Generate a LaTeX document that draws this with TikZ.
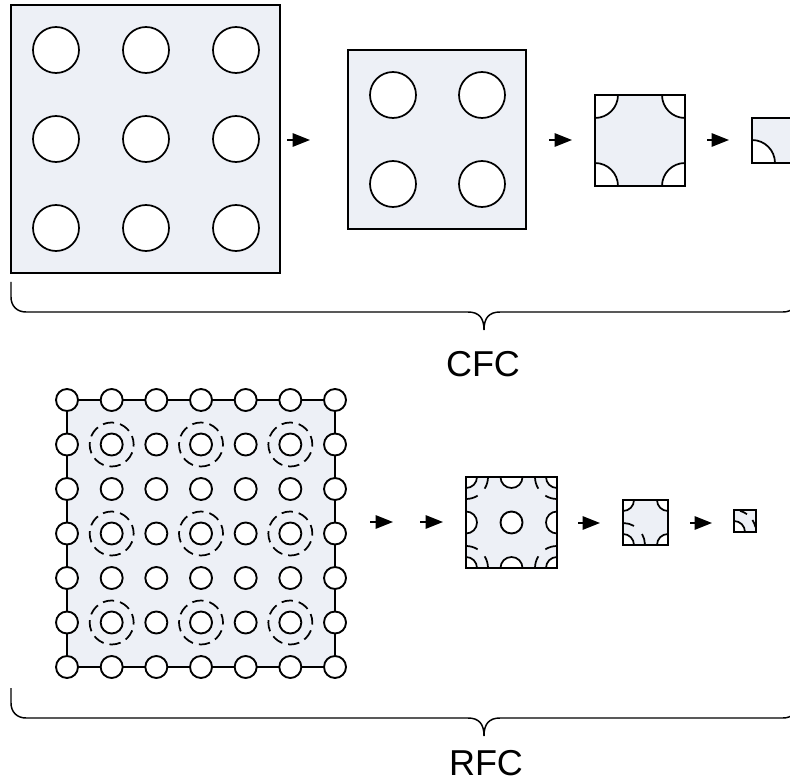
\documentclass[tikz,border=0pt]{standalone}
\usepackage{fontspec}
\setmainfont{Liberation Sans}
\usetikzlibrary{arrows.meta}
\definecolor{fillc}{RGB}{237,240,246}
\begin{document}
\begin{tikzpicture}[x=0.75pt,y=-0.75pt,
  sqfill/.style={fill=fillc, draw=none, rectangle, inner sep=0pt, outer sep=0pt, anchor=north west},
  border/.style={draw=black, line width=1.3pt},
  bighole/.style={circle, draw=black, fill=white, line width=1.3pt, inner sep=0pt, minimum size=34.5pt},
  smallhole/.style={circle, draw=black, fill=white, line width=1.4pt, inner sep=0pt, minimum size=16.5pt},
  ring/.style={circle, draw=black, line width=1.3pt, inner sep=0pt, minimum size=33pt, dash pattern=on 8.5pt off 4.5pt, dash phase=2pt},
  arr/.style={line width=1.4pt, -{Triangle[length=13pt,width=10pt]}},
  brace/.style={line width=1.1pt},
  lbl/.style={font=\fontsize{27}{30}\selectfont, inner sep=0pt}
]
\useasboundingbox (0,0) rectangle (790,784);

% ---------------- CFC (top) ----------------
% square 1
\node[sqfill, minimum width=201.75pt, minimum height=201pt] (s1) at (11,5) {};
\draw[border] (s1.north west) rectangle (s1.south east);
\foreach \x [count=\i] in {56,146,236} {
  \foreach \y [count=\j] in {50,139,228} {
    \node[bighole] (s1c\i\j) at (\x,\y) {};
  }
}
% square 2
\node[sqfill, minimum width=133.5pt, minimum height=134.25pt] (s2) at (348,50) {};
\draw[border] (s2.north west) rectangle (s2.south east);
\foreach \x [count=\i] in {393,482} {
  \foreach \y [count=\j] in {95,184} {
    \node[bighole] (s2c\i\j) at (\x,\y) {};
  }
}
% square 3
\node[sqfill, minimum width=67.5pt, minimum height=68.25pt] (s3) at (595,95) {};
\begin{scope}
  \clip (s3.north west) rectangle (s3.south east);
  \foreach \c in {north west, north east, south west, south east}
    \draw[line width=1.3pt, fill=white] (s3.\c) circle[radius=17.25pt];
\end{scope}
\draw[border] (s3.north west) rectangle (s3.south east);
% square 4 (cut by the right margin)
\node[sqfill, minimum width=34.5pt, minimum height=33.75pt] (s4) at (752,118) {};
\begin{scope}
  \clip (0,0) rectangle (790,784);
  \begin{scope}
    \clip (s4.north west) rectangle (s4.south east);
    \draw[line width=1.3pt, fill=white] (s4.south west) circle[radius=17.25pt];
  \end{scope}
  \draw[border] (s4.north west) rectangle (s4.south east);
\end{scope}
% arrows
\coordinate (a1s) at (287,140); \coordinate (a1e) at (310,140);
\coordinate (a2s) at (549,140); \coordinate (a2e) at (572,140);
\coordinate (a3s) at (707,140); \coordinate (a3e) at (729,140);
\draw[arr] (a1s) -- (a1e);
\draw[arr] (a2s) -- (a2e);
\draw[arr] (a3s) -- (a3e);
% brace
\begin{scope}
  \clip (0,0) rectangle (790,784);
  \draw[brace] (11,282) -- (11,297) .. controls (11,306) and (17,312) .. (26,312)
    -- (468,312) .. controls (479,312) and (484,318) .. (484,330)
    .. controls (484,318) and (489,312) .. (500,312)
    -- (783,312) .. controls (792,312) and (798,306) .. (798,297) -- (798,282);
\end{scope}
\node[lbl] (cfc) at (483,364) {CFC};

% ---------------- RFC (bottom) ----------------
\coordinate (gtl) at (67,400);
\coordinate (gbr) at (335,667);
\draw[border, fill=fillc] (gtl) rectangle (gbr);
\foreach \i in {1,3,5} {
  \foreach \j in {1,3,5} {
    \node[ring] (r\i\j) at ({67+44.667*\i},{400+44.5*\j}) {};
  }
}
\foreach \i in {0,...,6} {
  \foreach \j in {0,...,6} {
    \node[smallhole] (g\i\j) at ({67+44.667*\i},{400+44.5*\j}) {};
  }
}
% arrows
\coordinate (b1s) at (370,522); \coordinate (b1e) at (393,522);
\coordinate (b2s) at (420,522); \coordinate (b2e) at (443,522);
\coordinate (b3s) at (578,523); \coordinate (b3e) at (600,523);
\coordinate (b4s) at (690,523); \coordinate (b4e) at (712,523);
\draw[arr] (b1s) -- (b1e);
\draw[arr] (b2s) -- (b2e);
\draw[arr] (b3s) -- (b3e);
\draw[arr] (b4s) -- (b4e);
% square 5
\node[sqfill, minimum width=68.25pt, minimum height=68.25pt] (s5) at (466,477) {};
\begin{scope}
  \clip (s5.north west) rectangle (s5.south east);
  \foreach \c in {north west, north east, south west, south east, north, south, west, east}
    \draw[line width=1.3pt, fill=white] (s5.\c) circle[radius=8.25pt];
  \foreach \c/\q in {north west/0, north east/90, south east/180, south west/270} {
    \draw[line width=1.3pt] (s5.\c) ++({\q+1}:22) arc[start angle={\q+1}, end angle={\q+32}, radius=22];
    \draw[line width=1.3pt] (s5.\c) ++({\q+58}:22) arc[start angle={\q+58}, end angle={\q+89}, radius=22];
  }
\end{scope}
\node[smallhole] (s5c) at (s5.center) {};
\draw[border] (s5.north west) rectangle (s5.south east);
% square 6
\node[sqfill, minimum width=33.75pt, minimum height=33.75pt] (s6) at (623,500) {};
\begin{scope}
  \clip (s6.north west) rectangle (s6.south east);
  \foreach \c in {north west, north east, south west, south east}
    \draw[line width=1.3pt, fill=white] (s6.\c) circle[radius=8.25pt];
  \draw[line width=1.3pt] (s6.south west) ++(271:22) arc[start angle=271, end angle=300, radius=22];
  \draw[line width=1.3pt] (s6.south west) ++(330:22) arc[start angle=330, end angle=359, radius=22];
\end{scope}
\draw[border] (s6.north west) rectangle (s6.south east);
% square 7
\node[sqfill, minimum width=16.5pt, minimum height=16.5pt] (s7) at (734,510) {};
\begin{scope}
  \clip (s7.north west) rectangle (s7.south east);
  \draw[line width=1.3pt, fill=white] (s7.south west) circle[radius=8.25pt];
  \draw[line width=1.3pt] (s7.south west) ++(286:22) arc[start angle=286, end angle=306, radius=22];
  \draw[line width=1.3pt] (s7.south west) ++(327:22) arc[start angle=327, end angle=347, radius=22];
\end{scope}
\draw[border] (s7.north west) rectangle (s7.south east);
% brace
\begin{scope}
  \clip (0,0) rectangle (790,784);
  \draw[brace] (11,688) -- (11,703) .. controls (11,712) and (17,718) .. (26,718)
    -- (468,718) .. controls (479,718) and (484,724) .. (484,736)
    .. controls (484,724) and (489,718) .. (500,718)
    -- (783,718) .. controls (792,718) and (798,712) .. (798,703) -- (798,688);
\end{scope}
\node[lbl] (rfc) at (486,763) {RFC};
\end{tikzpicture}
\end{document}
